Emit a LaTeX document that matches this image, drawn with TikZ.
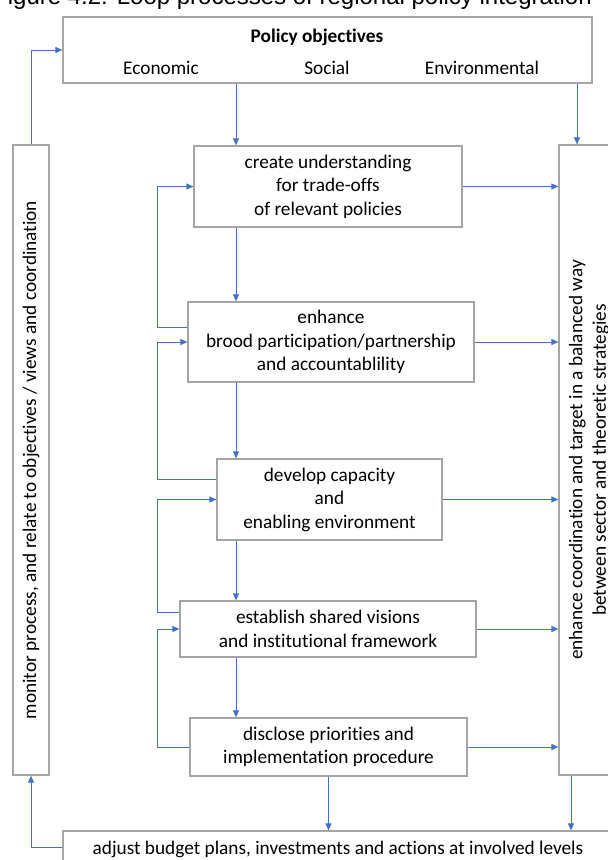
\documentclass[tikz,border=0pt]{standalone}
\usepackage{fontspec}
\setmainfont{Carlito}[Ligatures=NoCommon]
\newfontfamily\capfont{Liberation Sans}
\usetikzlibrary{arrows.meta}
\definecolor{boxgray}{HTML}{A5A5A5}
\definecolor{flowblue}{HTML}{4472C4}
\tikzset{
  panel/.style={draw=boxgray, line width=1.2pt, fill=white, inner sep=0pt},
  txt/.style={font=\fontsize{19.3}{23.5}\selectfont, align=center, text=black, inner sep=0pt},
  flow/.style={draw=flowblue, line width=0.95pt, -{Triangle[length=7pt,width=6pt]}},
}

\begin{document}
\begin{tikzpicture}[x=1pt,y=-1pt]
\useasboundingbox (0,0) rectangle (608,860);
\clip (0,0) rectangle (608,860);

% caption
\node[anchor=base east, inner sep=0pt, font=\capfont\fontsize{24}{28}\selectfont] (caption) at (592,4.5)
  {Figure 4.2: Loop processes of regional policy integration};

% policy objectives
\node[panel, minimum width=529pt, minimum height=66pt] (objectives) at (327.5,50) {};
\node[txt] (objtitle) at (317,37) {\bfseries Policy objectives};
\node[txt] (econ) at (161,68) {Economic};
\node[txt] (social) at (327,68) {Social};
\node[txt] (env) at (482,68) {Environmental};

% side columns
\node[panel, minimum width=36pt, minimum height=630pt] (monitor) at (31,460) {};
\node[txt, rotate=90] (monitortext) at (monitor.center)
  {monitor process, and relate to objectives / views and coordination};
\node[panel, minimum width=60pt, minimum height=630pt] (balance) at (589,460) {};
\node[txt, rotate=90] (balancetext) at (balance.center)
  {enhance coordination and target in a balanced way\\between sector and theoretic strategies};

% process steps
\node[panel, txt, minimum width=268pt, minimum height=81pt] (create) at (328,186.5)
  {create understanding\\for trade-offs\\of relevant policies};
\node[panel, txt, minimum width=286pt, minimum height=80pt] (enhance) at (331,342)
  {enhance\\brood participation/partnership\\and accountablility};
\node[panel, txt, minimum width=225pt, minimum height=81pt] (develop) at (329.5,499.5)
  {develop capacity\\and\\enabling environment};
\node[panel, txt, minimum width=296pt, minimum height=56pt] (establish) at (328,629)
  {establish shared visions\\and institutional framework};
\node[panel, txt, minimum width=277pt, minimum height=58pt] (disclose) at (328.5,747)
  {disclose priorities and\\implementation procedure};

% budget
\node[panel, minimum width=550pt, minimum height=32pt] (budget) at (338,847) {};
\node[txt] (budgettext) at (338,849) {adjust budget plans, investments and actions at involved levels};

% guide lines for vertical connectors
\coordinate (spine) at (236,0);
\coordinate (rspine) at (577,0);
\coordinate (rdown) at (571,0);
\coordinate (loopx) at (157,0);

% main downward flow
\draw[flow] (objectives.south -| spine) -- (create.north -| spine);
\draw[flow] (create.south -| spine) -- (enhance.north -| spine);
\draw[flow] (enhance.south -| spine) -- (develop.north -| spine);
\draw[flow] (develop.south -| spine) -- (establish.north -| spine);
\draw[flow] (establish.south -| spine) -- (disclose.north -| spine);
\draw[flow] (disclose.south) -- (budget.north -| disclose.south);

% right column
\draw[flow] (objectives.south -| rspine) -- (balance.north -| rspine);
\draw[flow] (balance.south -| rdown) -- (budget.north -| rdown);
\draw[flow] (create.east) -- (create.east -| balance.west);
\draw[flow] (enhance.east) -- (enhance.east -| balance.west);
\draw[flow] (develop.east) -- (develop.east -| balance.west);
\draw[flow] (establish.east) -- (establish.east -| balance.west);
\draw[flow] (disclose.east) -- (disclose.east -| balance.west);

% feedback loops
\draw[flow] ([yshift=-26pt]enhance.north west) -- ([yshift=-26pt]enhance.north west -| loopx) |- (create.west);
\draw[flow] ([yshift=-21pt]develop.north west) -- ([yshift=-21pt]develop.north west -| loopx) |- (enhance.west);
\draw[flow] ([yshift=-12pt]establish.north west) -- ([yshift=-12pt]establish.north west -| loopx) |- (develop.west);
\draw[flow] (disclose.west) -- (disclose.west -| loopx) |- (establish.west);

% outer loop
\draw[flow] (monitor.north) |- (objectives.west);
\draw[flow] (budget.west) -| (monitor.south);

\end{tikzpicture}
\end{document}
